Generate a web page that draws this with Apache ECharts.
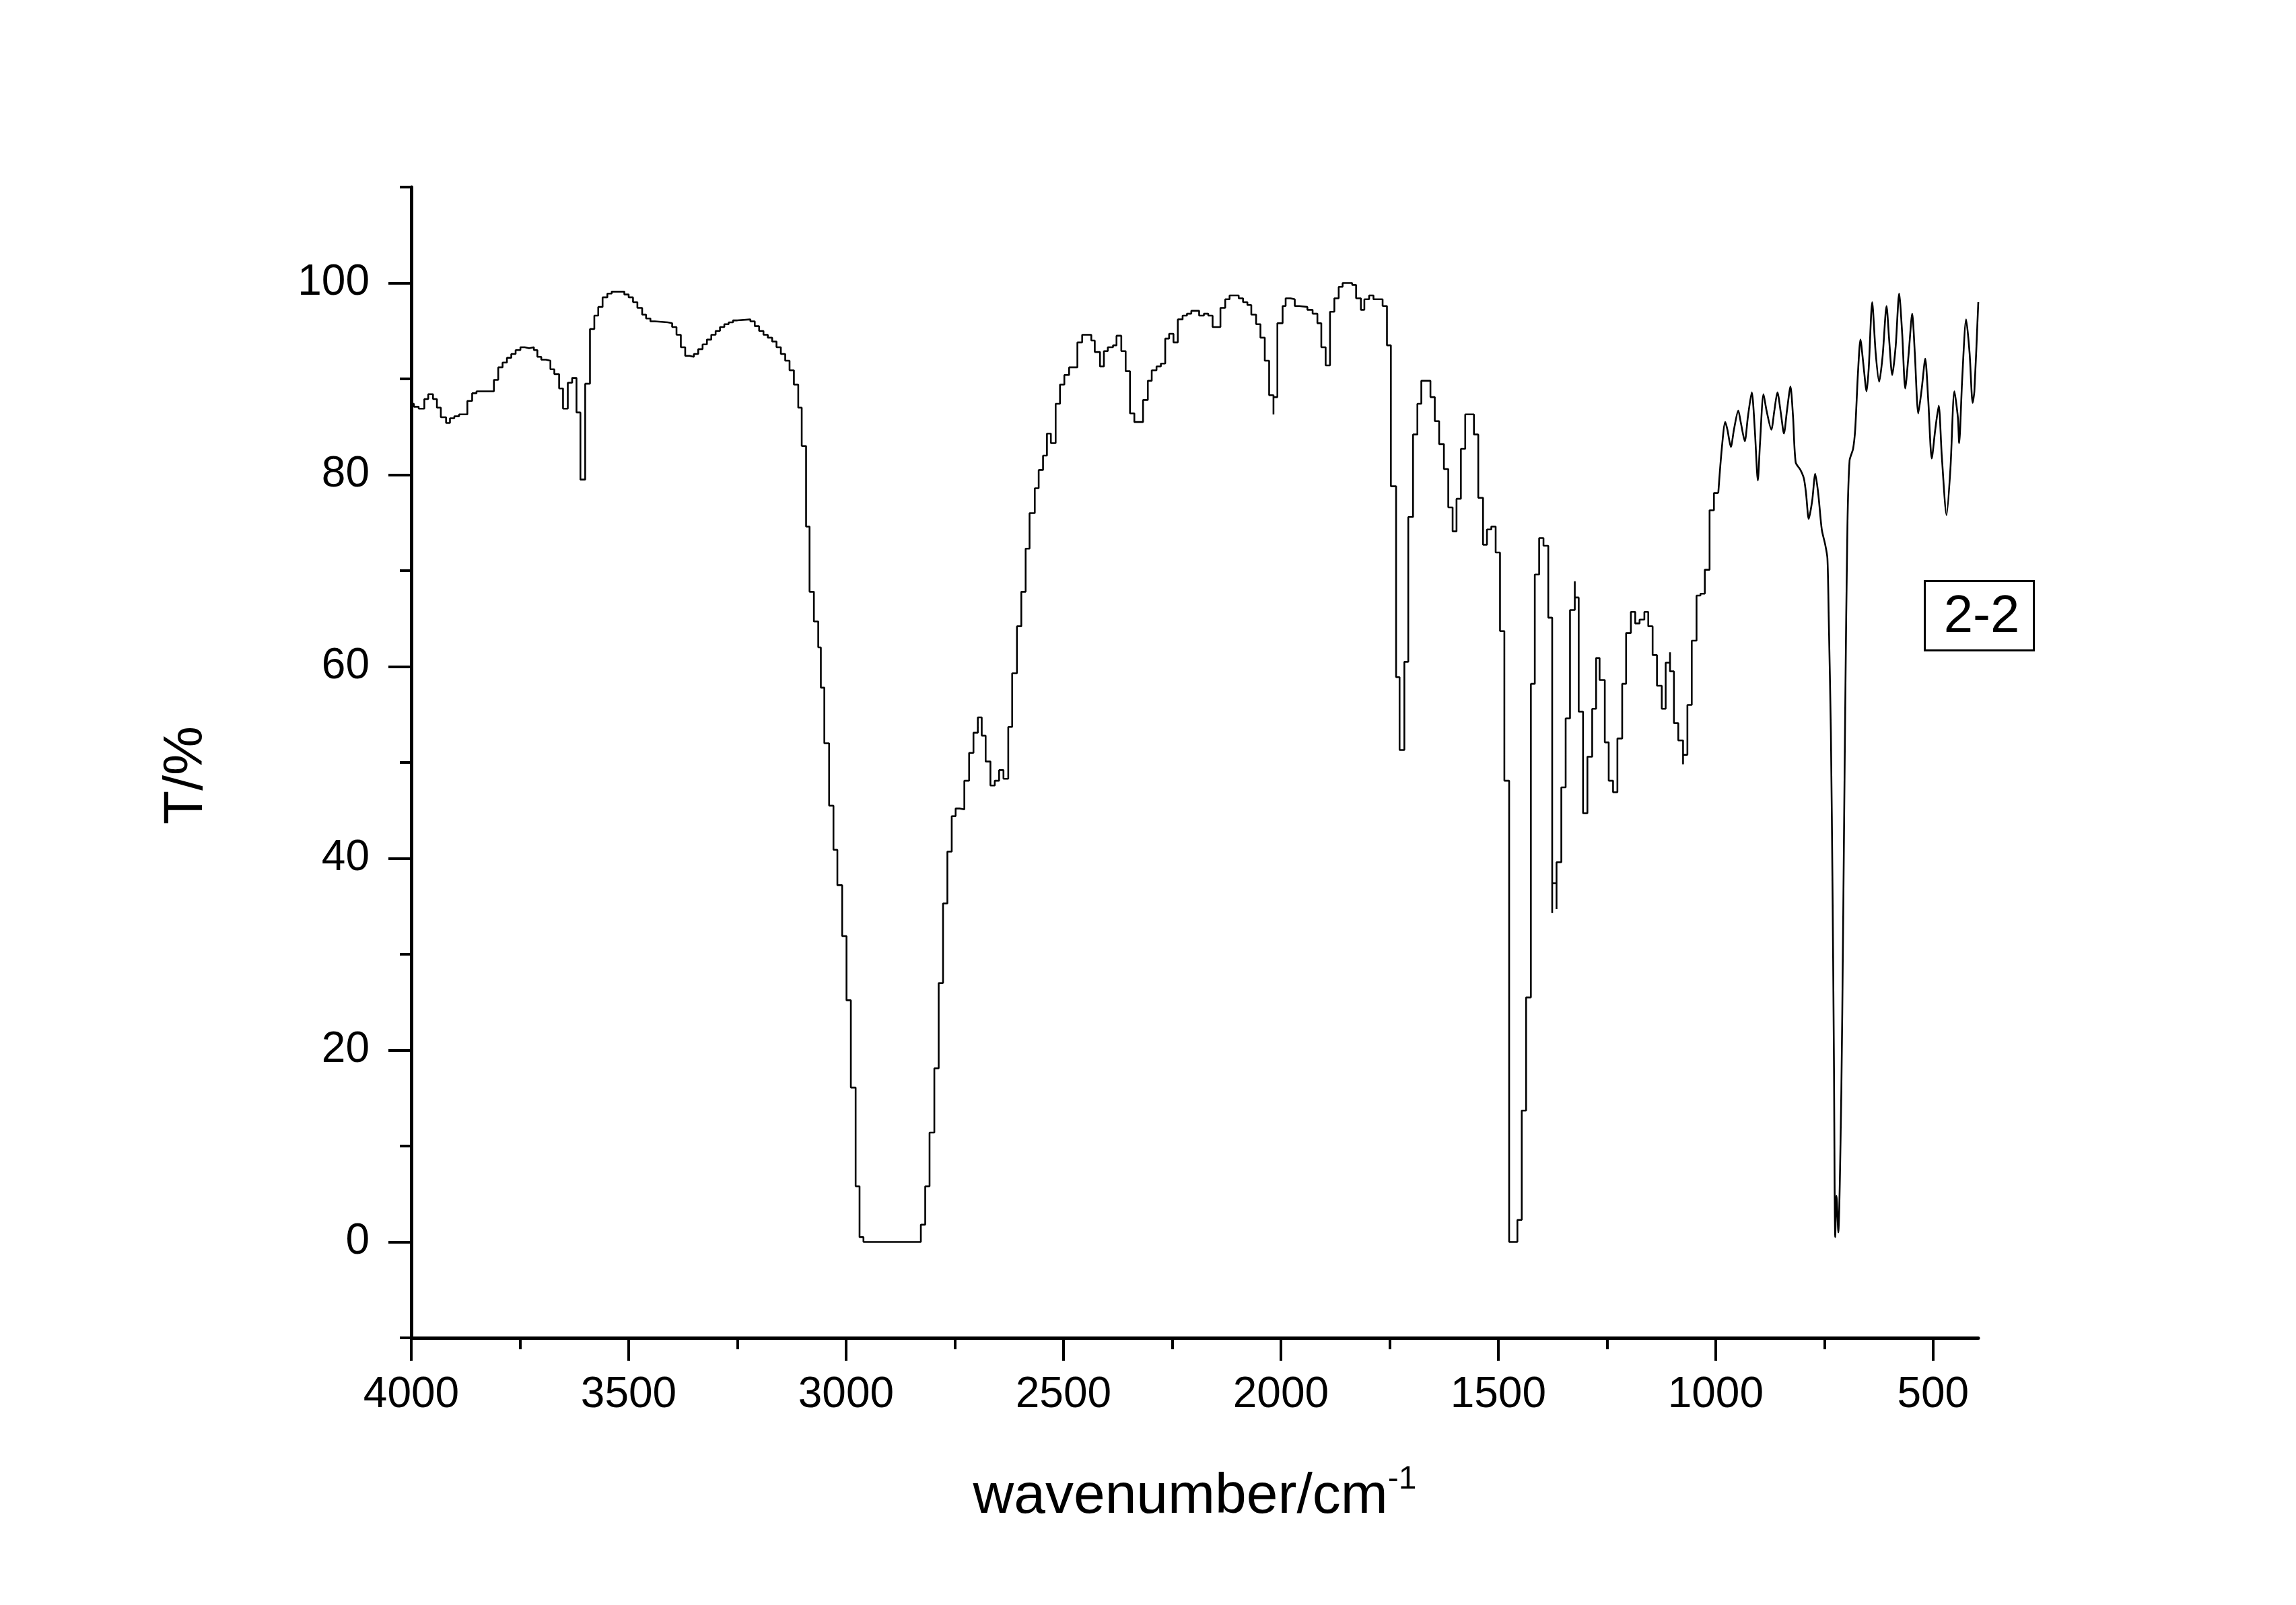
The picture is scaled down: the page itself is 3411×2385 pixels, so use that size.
<!DOCTYPE html>
<html>
<head>
<meta charset="utf-8">
<script src="https://cdn.jsdelivr.net/npm/echarts@6/dist/echarts.min.js"></script>
<style>
html,body{margin:0;padding:0;background:#fff;}
#chart{width:3411px;height:2385px;}
</style>
</head>
<body>
<div id="chart"></div>
<script>
// Stair-step part of the spectrum (segment start wavenumber, transmittance)
const stepWavenumber = [
4000,3994,3983,3970,3961,3950,3941,3932,3920,3911,3901,3890,3871,3860,3850,3810,3800,3790,3780,3770,
3760,3749,3739,3729,3718,3710,3701,3690,3680,3671,3660,3651,3640,3630,3620,3611,3600,3589,3579,3570,
3560,3549,3539,3510,3500,3490,3480,3469,3460,3450,3440,3410,3400,3390,3380,3370,3360,3350,3340,3330,
3320,3310,3300,3290,3280,3270,3260,3250,3220,3210,3200,3190,3180,3170,3160,3150,3140,3130,3120,3110,
3102,3092,3084,3074,3064,3058,3050,3039,3029,3020,3009,2999,2989,2978,2969,2960,2828,2818,2808,2797,
2787,2777,2767,2757,2748,2738,2728,2717,2707,2697,2688,2679,2668,2658,2648,2638,2627,2618,2607,2597,
2587,2578,2566,2557,2547,2538,2529,2518,2508,2498,2487,2468,2457,2436,2428,2416,2407,2398,2386,2378,
2367,2357,2347,2337,2317,2306,2297,2286,2276,2266,2257,2247,2237,2226,2216,2206,2188,2177,2167,2157,
2139,2128,2118,2097,2087,2077,2068,2057,2047,2037,2027,2017,2017,2008,1996,1989,1978,1968,1958,1939,
1927,1916,1907,1897,1887,1877,1867,1858,1836,1827,1816,1808,1797,1787,1766,1756,1747,1735,1727,1716,
1707,1696,1686,1677,1656,1646,1636,1625,1615,1605,1596,1586,1576,1556,1546,1535,1526,1516,1506,1496,
1486,1475,1456,1446,1436,1425,1416,1406,1396,1385,1376,1376,1366,1366,1355,1345,1335,1324,1324,1315,
1305,1295,1284,1275,1267,1255,1246,1236,1226,1215,1206,1195,1185,1175,1164,1155,1145,1135,1124,1115,
1105,1105,1096,1086,1075,1075,1065,1055,1044,1035,1025,1014,1004,994
];
const stepT = [
87.4,87.1,86.9,87.9,88.4,87.9,87.0,86.0,85.4,85.9,86.1,86.3,87.7,88.5,88.7,89.9,91.2,91.7,92.2,92.6,
93.0,93.3,93.2,93.3,93.0,92.3,92.0,91.9,91.0,90.5,89.0,86.9,89.6,90.1,86.5,79.5,89.5,95.2,96.6,97.5,
98.5,98.9,99.1,98.8,98.5,98.0,97.4,96.7,96.3,96.0,95.9,95.8,95.4,94.6,93.3,92.4,92.3,92.6,93.1,93.6,
94.1,94.6,95.0,95.4,95.7,95.9,96.1,96.2,96.0,95.5,95.0,94.6,94.3,93.9,93.3,92.6,91.9,90.9,89.4,87.0,
83.0,74.6,67.8,64.7,62.0,57.8,52.0,45.5,40.9,37.2,31.9,25.2,16.1,5.8,0.5,0.0,1.8,5.8,11.4,18.1,
27.0,35.3,40.7,44.4,45.2,45.1,48.1,51.0,53.1,54.7,52.8,50.1,47.6,48.1,49.2,48.3,53.7,59.3,64.2,67.8,
72.3,76.0,78.6,80.5,82.0,84.3,83.3,87.4,89.4,90.4,91.2,93.8,94.6,94.0,92.8,91.3,92.9,93.3,93.5,94.5,
92.9,90.8,86.4,85.5,87.8,89.8,90.9,91.3,91.6,94.2,94.7,93.8,96.2,96.6,96.8,97.1,96.6,96.8,96.6,95.4,
97.4,98.3,98.7,98.4,98.0,97.7,96.7,95.7,94.3,91.9,88.3,86.3,88.1,95.8,97.6,98.4,98.3,97.6,97.5,97.2,
96.8,95.8,93.3,91.4,97.0,98.4,99.6,100.0,99.8,98.4,97.2,98.3,98.7,98.3,97.6,93.5,78.8,58.9,51.3,60.5,
75.6,84.2,87.4,89.8,88.1,85.6,83.2,80.6,76.6,74.1,77.5,82.7,86.3,84.2,77.6,72.7,74.3,74.6,71.9,63.7,
48.1,0.0,2.3,13.7,25.5,58.2,69.6,73.4,72.6,65.1,34.3,37.4,34.7,39.6,47.4,54.6,65.9,68.9,67.2,55.3,
44.7,50.6,55.6,60.9,58.6,52.1,48.1,46.9,52.5,58.2,63.5,65.7,64.5,64.9,65.7,64.2,61.2,58.0,55.6,60.4,
61.5,59.5,54.1,52.3,49.8,50.8,56.0,62.7,67.4,67.6,70.1,76.3,78.1,78.1
];
// Smooth part of the spectrum below ~1000 cm-1
const smoothWavenumber = [
994,986,978,973,965,958,948,942,933,926,917,910,903,898,890,883,872,865,858,850,
843,836,828,822,816,805,797,792,786,778,771,764,756,748,743,740,735,731,728,725,
722,718,711,707,702,697,692,684,679,673,667,660,653,648,640,632,624,616,607,601,
594,586,578,571,564,556,548,542,534,526,518,511,503,495,487,480,469,460,451,443,
440,433,424,416,409,405,396
];
const smoothT = [
78.1,82.7,85.5,84.7,82.9,84.7,86.7,85.4,83.5,86.0,88.6,84.7,79.4,83.3,88.4,86.7,84.7,86.7,88.6,86.4,
84.3,86.7,89.2,86.0,81.3,80.5,79.6,78.0,75.4,77.3,80.1,78.0,74.3,72.7,71.3,65.2,53.1,35.7,18.9,0.5,
4.8,1.0,15.6,32.3,55.8,74.6,81.5,82.7,84.8,90.4,94.1,91.4,88.7,91.1,98.0,92.7,89.7,92.4,97.6,94.1,
90.4,93.4,98.9,94.7,89.0,92.7,96.8,92.7,86.4,89.0,92.1,87.7,81.7,84.7,87.2,82.0,75.8,80.7,88.7,86.0,
83.3,90.0,96.2,92.7,87.5,88.7,98.0
];
const xLabelValues = [4000,3500,3000,2500,2000,1500,1000,500];
const xMinorTickValues = [3750,3250,2750,2250,1750,1250,750];
const yLabelValues = [0,20,40,60,80,100];
const yMinorTickValues = [-10,10,30,50,70,90,110];
const seriesName = '2-2';
const xTitle = 'wavenumber/cm';
const xTitleSup = '-1';
const yTitle = 'T/%';

const FONT = "'Liberation Sans', Arial, sans-serif";
const chart = echarts.init(document.getElementById('chart'), null, {renderer: 'canvas'});
const xRange = {min: 396, max: 4000};
const yRange = {min: -10, max: 110};
const fmt = v => String(v);

chart.setOption({
  backgroundColor: '#fff',
  animation: false,
  grid: {left: 611, right: 472, top: 278, bottom: 397, containLabel: false},
  xAxis: [
    {
      type: 'value', position: 'bottom', inverse: true, min: xRange.min, max: xRange.max,
      axisLine: {onZero: false, lineStyle: {color: '#000', width: 5}},
      axisTick: {customValues: xLabelValues, length: 34, lineStyle: {color: '#000', width: 4}},
      axisLabel: {customValues: xLabelValues, formatter: fmt, fontSize: 64, color: '#000', fontFamily: FONT, margin: 53},
      splitLine: {show: false},
      name: '{a|' + xTitle + '}{b|' + xTitleSup + '}',
      nameLocation: 'middle', nameGap: 187,
      nameTextStyle: {
        rich: {
          a: {fontSize: 84, lineHeight: 100, fontFamily: FONT, color: '#000'},
          b: {fontSize: 48, lineHeight: 34, verticalAlign: 'top', fontFamily: FONT, color: '#000'}
        }
      }
    },
    {
      type: 'value', position: 'bottom', inverse: true, min: xRange.min, max: xRange.max,
      axisLine: {show: false, onZero: false},
      axisTick: {customValues: xMinorTickValues, length: 17, lineStyle: {color: '#000', width: 4}},
      axisLabel: {show: false},
      splitLine: {show: false}
    }
  ],
  yAxis: [
    {
      type: 'value', position: 'left', min: yRange.min, max: yRange.max,
      axisLine: {show: true, onZero: false, lineStyle: {color: '#000', width: 5}},
      axisTick: {show: true, customValues: yLabelValues, length: 34, lineStyle: {color: '#000', width: 4}},
      axisLabel: {customValues: yLabelValues, formatter: fmt, fontSize: 64, color: '#000', fontFamily: FONT, margin: 62},
      splitLine: {show: false},
      name: yTitle, nameLocation: 'middle', nameRotate: 90, nameGap: 293,
      nameTextStyle: {fontSize: 82, fontFamily: FONT, color: '#000', padding: [0, 38, 0, 0]}
    },
    {
      type: 'value', position: 'left', min: yRange.min, max: yRange.max,
      axisLine: {show: false, onZero: false},
      axisTick: {show: true, customValues: yMinorTickValues, length: 17, lineStyle: {color: '#000', width: 4}},
      axisLabel: {show: false},
      splitLine: {show: false}
    }
  ],
  series: [
    {
      name: seriesName, type: 'line', xAxisIndex: 0, yAxisIndex: 0, step: 'end',
      showSymbol: false, symbol: 'none',
      lineStyle: {color: '#000', width: 2.6},
      data: stepWavenumber.map((w, i) => [w, stepT[i]])
    },
    {
      name: seriesName, type: 'line', xAxisIndex: 0, yAxisIndex: 0, smooth: 0.25,
      showSymbol: false, symbol: 'none',
      lineStyle: {color: '#000', width: 2.6},
      data: smoothWavenumber.map((w, i) => [w, smoothT[i]])
    }
  ],
  graphic: [
    {
      type: 'rect', left: 2858, top: 862, z: 100,
      shape: {width: 162, height: 103},
      style: {fill: '#fff', stroke: '#000', lineWidth: 3}
    },
    {
      type: 'text', z: 101, x: 2944, y: 917,
      style: {text: seriesName, font: '78px ' + FONT, fill: '#000', align: 'center', verticalAlign: 'middle'}
    }
  ]
});
</script>
</body>
</html>
